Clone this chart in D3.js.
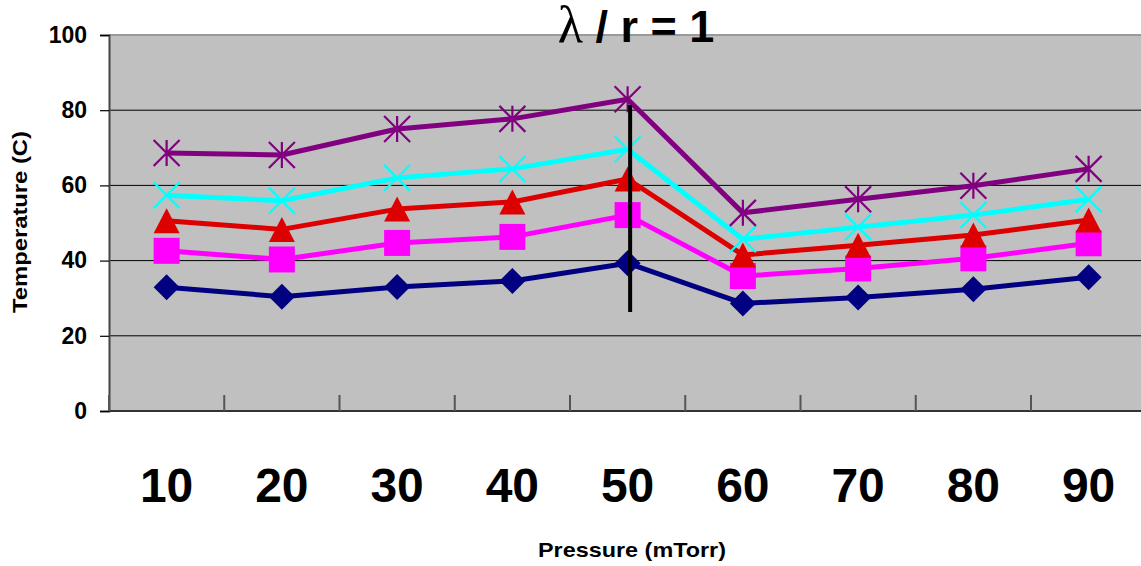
<!DOCTYPE html>
<html>
<head>
<meta charset="utf-8">
<script src="https://cdn.jsdelivr.net/npm/d3@7"></script>
<style>
  html, body { margin: 0; padding: 0; background: #fff; }
  svg { display: block; font-family: "Liberation Sans", Arial, sans-serif; }
</style>
</head>
<body>
<svg id="chart" width="1141" height="566"></svg>
<script>
// Pressure settings (mTorr) along the category axis
const pressures = ["10", "20", "30", "40", "50", "60", "70", "80", "90"];
const yTicks = [0, 20, 40, 60, 80, 100];

// Temperature (C) readings, one array per curve
const tempDiamond  = [32.9, 30.4, 33.0, 34.6, 39.3, 28.6, 30.2, 32.4, 35.6];
const tempSquare   = [42.6, 40.3, 44.7, 46.3, 52.1, 35.9, 37.9, 40.6, 44.6];
const tempTriangle = [50.6, 48.3, 53.7, 55.6, 61.7, 41.5, 44.1, 46.8, 50.8];
const tempCross    = [57.4, 55.9, 62.0, 64.4, 69.6, 45.7, 48.9, 52.1, 56.3];
const tempStar     = [68.6, 68.1, 75.0, 77.7, 82.9, 52.7, 56.3, 59.9, 64.4];

// Vertical marker line at 50 mTorr
const markerAt = "50";
const markerRange = [26.3, 81.4];

const series = [
  { values: tempDiamond,  color: "#000080", symbol: "diamond" },
  { values: tempSquare,   color: "#FF00FF", symbol: "square" },
  { values: tempTriangle, color: "#DD0000", symbol: "triangle" },
  { values: tempCross,    color: "#00FFFF", symbol: "cross" },
  { values: tempStar,     color: "#800080", symbol: "star" }
];

const svg = d3.select("#chart");
const plot = { left: 109, top: 35, bottom: 411, step: 115.25 };
const plotRight = plot.left + plot.step * pressures.length;

const x = d3.scaleBand().domain(pressures).range([plot.left, plotRight]).padding(0);
const y = d3.scaleLinear().domain([0, 100]).range([plot.bottom, plot.top]);
const cx = d => x(d) + x.bandwidth() / 2;

// plot background
svg.append("rect")
  .attr("x", plot.left).attr("y", plot.top)
  .attr("width", plotRight - plot.left).attr("height", plot.bottom - plot.top)
  .attr("fill", "#C0C0C0");

// horizontal gridlines
svg.append("g")
  .selectAll("line")
  .data(yTicks.filter(t => t > 0 && t < 100))
  .join("line")
  .attr("x1", plot.left).attr("x2", plotRight)
  .attr("y1", d => y(d)).attr("y2", d => y(d))
  .attr("stroke", "#000").attr("stroke-width", 1);

// top edge of plot
svg.append("line")
  .attr("x1", plot.left).attr("x2", plotRight)
  .attr("y1", y(100)).attr("y2", y(100))
  .attr("stroke", "#9a9a9a").attr("stroke-width", 2);

// y axis
const yAxis = d3.axisLeft(y).tickValues(yTicks).tickSize(9).tickPadding(13);
const gy = svg.append("g").attr("transform", `translate(${plot.left},0)`).call(yAxis);
gy.select(".domain").attr("stroke", "#444").attr("stroke-width", 2);
gy.selectAll(".tick line").attr("stroke", "#000").attr("stroke-width", 1.2);
gy.selectAll(".tick text")
  .attr("font-size", 23).attr("font-weight", "bold").attr("fill", "#000")
  .attr("font-family", "Liberation Sans, Arial, sans-serif");

// x axis: baseline plus inner ticks at category boundaries
svg.append("line")
  .attr("x1", plot.left).attr("x2", plotRight)
  .attr("y1", plot.bottom).attr("y2", plot.bottom)
  .attr("stroke", "#333").attr("stroke-width", 2);
svg.append("g")
  .selectAll("line")
  .data(pressures)
  .join("line")
  .attr("x1", d => x(d)).attr("x2", d => x(d))
  .attr("y1", plot.bottom).attr("y2", plot.bottom - 16)
  .attr("stroke", "#555").attr("stroke-width", 2);

svg.append("g")
  .selectAll("text")
  .data(pressures)
  .join("text")
  .attr("x", d => cx(d)).attr("y", 502)
  .attr("text-anchor", "middle")
  .attr("font-size", 48).attr("font-weight", "bold").attr("fill", "#000")
  .text(d => d);

// curves
const line = d3.line().x((v, i) => cx(pressures[i])).y(v => y(v));

const symbolPath = (kind) => {
  const h = 13;
  switch (kind) {
    case "diamond":  return `M0,${-h}L${h},0L0,${h}L${-h},0Z`;
    case "square":   return `M${-h},${-h}H${h}V${h}H${-h}Z`;
    case "triangle": return `M0,${-12.5}L${h},12.5L${-h},12.5Z`;
    case "cross":    return `M${-h},${-h}L${h},${h}M${h},${-h}L${-h},${h}`;
    case "star":     return `M${-h},${-h}L${h},${h}M${h},${-h}L${-h},${h}M0,${-h}V${h}`;
  }
};

series.forEach(s => {
  const g = svg.append("g");
  g.append("path")
    .datum(s.values)
    .attr("d", line)
    .attr("fill", "none")
    .attr("stroke", s.color)
    .attr("stroke-width", 5)
    .attr("stroke-linejoin", "round");
  const filled = s.symbol === "diamond" || s.symbol === "square" || s.symbol === "triangle";
  g.selectAll("path.mk")
    .data(s.values)
    .join("path")
    .attr("class", "mk")
    .attr("transform", (v, i) => `translate(${cx(pressures[i])},${y(v)})`)
    .attr("d", symbolPath(s.symbol))
    .attr("fill", filled ? s.color : "none")
    .attr("stroke", filled ? "none" : s.color)
    .attr("stroke-width", 2.2);
});

// vertical marker line
svg.append("line")
  .attr("x1", cx(markerAt) + 2.5).attr("x2", cx(markerAt) + 2.5)
  .attr("y1", y(markerRange[1])).attr("y2", y(markerRange[0]))
  .attr("stroke", "#000").attr("stroke-width", 4);

// titles
const title = svg.append("text")
  .attr("x", 636).attr("y", 42)
  .attr("text-anchor", "middle")
  .attr("font-size", 45).attr("font-weight", "bold").attr("fill", "#000");
title.append("tspan")
  .attr("font-family", "Liberation Serif, Times New Roman, serif")
  .attr("font-weight", "normal").attr("font-size", 52)
  .text("λ");
title.append("tspan").text(" / r = 1");

svg.append("text")
  .attr("transform", "translate(632,557) scale(1.17,1)")
  .attr("text-anchor", "middle")
  .attr("font-size", 20).attr("font-weight", "bold").attr("fill", "#000")
  .text("Pressure (mTorr)");

svg.append("text")
  .attr("transform", "translate(27,222) rotate(-90) scale(1.19,1)")
  .attr("text-anchor", "middle")
  .attr("font-size", 20).attr("font-weight", "bold").attr("fill", "#000")
  .text("Temperature (C)");
</script>
</body>
</html>
